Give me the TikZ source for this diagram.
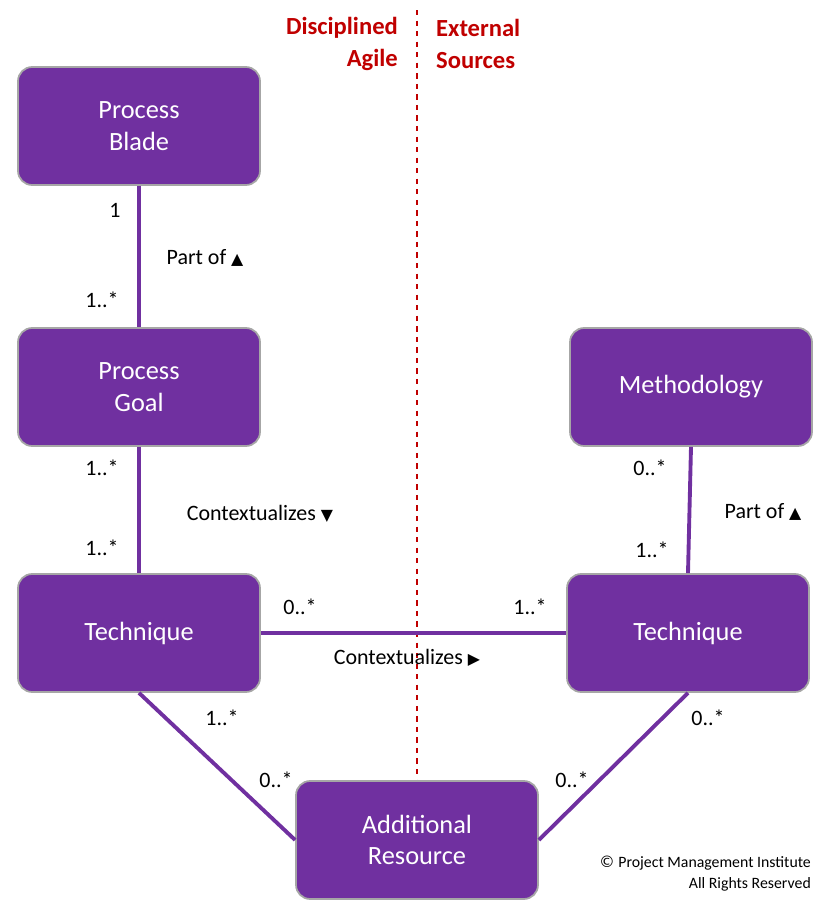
\documentclass[tikz,border=0pt]{standalone}
\usepackage{fontspec}
\setmainfont{Carlito}
\newfontfamily\symfont{DejaVu Sans}
\usetikzlibrary{positioning}
\definecolor{dapurple}{HTML}{7030A0}
\definecolor{dared}{HTML}{C00000}
\tikzset{
  box/.style={draw=gray!70,line width=1pt,fill=dapurple,rounded corners=8pt,
    minimum width=4.84cm,minimum height=2.36cm,align=center,text=white,
    font=\fontsize{15}{18}\selectfont},
  link/.style={draw=dapurple,line width=2.2pt},
  lbl/.style={font=\fontsize{12.5}{15}\selectfont}
}
\begin{document}
\begin{tikzpicture}[x=0.02cm,y=-0.02cm]
      \useasboundingbox (0,0) rectangle (829,900);
      \draw[dared,dashed,line width=1.2pt] (417,10) -- (417,780);
      \node[anchor=east,align=right,text=dared,font=\fontsize{14}{18}\selectfont\bfseries] (da) at (404,44) {Disciplined\\Agile};
      \node[anchor=west,align=left,text=dared,font=\fontsize{14}{18}\selectfont\bfseries] (ext) at (430,44) {External\\Sources};
      \node[box] (blade) at (139,126) {Process\\Blade};
      \node[box] (goal) at (139,387) {Process\\Goal};
      \node[box] (techl) at (139,633) {Technique};
      \node[box] (meth) at (691,387) {Methodology};
      \node[box] (techr) at (688,633) {Technique};
      \node[box] (res) at (417,840) {Additional\\Resource};
      \draw[link] (blade) -- (goal);
      \draw[link] (goal) -- (techl);
      \draw[link] (techl.east) -- (techr.west);
      \draw[link] (meth.south) -- (techr.north);
      \draw[link] (techl.south) -- (res.west);
      \draw[link] (techr.south) -- (res.east);
      \node[lbl] (m1) at (115,210) {1};
      \node[lbl] (p1) at (205,258) {Part of {\symfont\small▲}};
      \node[lbl] (m2) at (102,300) {1..*};
      \node[lbl] (m3) at (102,468) {1..*};
      \node[lbl] (c1) at (260,514) {Contextualizes {\symfont\small▼}};
      \node[lbl] (m4) at (102,548) {1..*};
      \node[lbl] (m5) at (300,607) {0..*};
      \node[lbl] (m6) at (530,607) {1..*};
      \node[lbl] (c2) at (407,658) {Contextualizes {\symfont\small▶}};
      \node[lbl] (m7) at (650,468) {0..*};
      \node[lbl] (p2) at (763,512) {Part of {\symfont\small▲}};
      \node[lbl] (m8) at (652,550) {1..*};
      \node[lbl] (m9) at (222,718) {1..*};
      \node[lbl] (m10) at (276,780) {0..*};
      \node[lbl] (m11) at (708,718) {0..*};
      \node[lbl] (m12) at (572,780) {0..*};
      \node[anchor=east,align=right,font=\fontsize{9}{12}\selectfont] (copy) at (817,874) {{\symfont ©} Project Management Institute\\All Rights Reserved};
\end{tikzpicture}
\end{document}
